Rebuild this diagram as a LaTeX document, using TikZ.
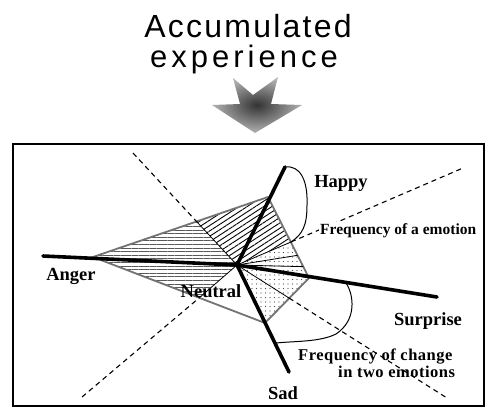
\documentclass[tikz,border=0pt]{standalone}
\usepackage{fontspec}
\setmainfont{Liberation Serif}
\newfontfamily\titlefont{Liberation Sans}
\usetikzlibrary{patterns.meta,calc}
\begin{document}
\begin{tikzpicture}[x=1pt,y=-1pt,
  axisline/.style={line width=3.6pt, line cap=round},
  edgeline/.style={draw=black!55, line width=1.8pt, line join=round},
  rayline/.style={line width=0.8pt},
  dashline/.style={line width=1.1pt, dash pattern=on 5pt off 4pt},
  loopline/.style={line width=1pt},
  bigl/.style={font=\bfseries\fontsize{18.5}{20}\selectfont, anchor=base, inner sep=0pt},
  freql/.style={font=\bfseries\fontsize{16.5}{18}\selectfont\addfontfeature{LetterSpace=3}, anchor=base west, inner sep=0pt},
  titlel/.style={anchor=base, inner sep=0pt}
]
\useasboundingbox (0,0) rectangle (489,410);

% title
\node[titlel, text depth=0pt, font=\titlefont\fontsize{32}{38}\selectfont\addfontfeature{LetterSpace=7}] (t1) at (248,37) {Accumulated};
\node[titlel, text height=17pt, font=\titlefont\fontsize{31}{38}\selectfont\addfontfeature{LetterSpace=13}] (t2) at (244,67) {experience};

% arrow
\shade[inner color=black!80, outer color=black!30]
  (233,78) -- (253,95) -- (278,77) -- (271,104) -- (302,105) -- (255,133) -- (212,105) -- (240,104) -- cycle;

% frame
\draw[line width=1.8pt] (13,144) rectangle (484,406);
\draw[line width=2.8pt] (13,406) -- (13,144) -- (219,144);

% key points
\coordinate (C) at (237,265);
\coordinate (Aend) at (43,256);
\coordinate (Hend) at (285,167);
\coordinate (Send) at (437,297);
\coordinate (Dend) at (289,372);
\coordinate (Av) at (93,257);
\coordinate (Hv) at (268,197);
\coordinate (Sv) at (309,278);
\coordinate (Dv) at (265,323);
\coordinate (PAH) at (197,222);
\coordinate (PAD) at (199,298);
\coordinate (PHS) at (291,242);
\coordinate (PSD) at (289,298);
\coordinate (UL) at (133,153);
\coordinate (LL) at (82,397);
\coordinate (UR) at (463,168);
\coordinate (LR) at (447,398);
\coordinate (R1) at ($(Hv)!0.72!(Sv)$);
\coordinate (R2) at ($(Hv)!0.86!(Sv)$);

% fills
\fill[pattern={Lines[angle=0,distance=3.6pt,line width=0.9pt]}, pattern color=black!65]
  (Av) -- (PAH) -- (C) -- (PAD) -- cycle;
\fill[pattern={Lines[angle=33,distance=4.5pt,line width=0.9pt]}, pattern color=black]
  (PAH) -- (Hv) -- (PHS) -- (C) -- cycle;
\fill[pattern={Dots[radius=0.55pt,distance=4.5pt]}, pattern color=black!70]
  (PHS) -- (Sv) -- (Dv) -- (C) -- cycle;

% polygon edges
\draw[edgeline] (Av) -- (Hv) -- (Sv) -- (Dv) -- cycle;

% thin rays
\draw[rayline] (C) -- (PAH);
\draw[rayline] (C) -- (PAD);
\draw[rayline] (C) -- (PHS);
\draw[rayline] (C) -- (PSD);
\draw[rayline] (C) -- (R1);
\draw[rayline] (C) -- (R2);
\draw[rayline] (C) -- (Sv);

% dashed boundaries
\draw[dashline] (UL) -- (PAH);
\draw[dashline] (LL) -- (PAD);
\draw[dashline] (PHS) -- (UR);
\draw[dashline] (PSD) -- (LR);

% axes
\draw[axisline] (Aend) -- (C);
\draw[axisline] (C) -- (Hend);
\draw[axisline] (C) -- (Send);
\draw[axisline] (C) -- (Dend);

% loops
\draw[loopline] (Hend) .. controls (300,165) and (308,180) .. (307,205)
  .. controls (307,225) and (303,234) .. (PHS);
\draw[loopline] (346,283) .. controls (354,295) and (357,320) .. (336,334)
  .. controls (320,342) and (296,341) .. (276,343);

% labels
\node[bigl] (happy) at (341,187) {Happy};
\node[bigl] (anger) at (71,280) {Anger};
\node[bigl] (neutral) at (211,297) {Neutral};
\node[bigl] (surprise) at (428,325) {Surprise};
\node[bigl] (sad) at (283,399) {Sad};
\node[freql, font=\bfseries\fontsize{15.5}{17}\selectfont, fill=white, inner sep=1pt] (f1) at (319,234) {Frequency of a emotion};
\node[freql] (f2) at (298,360) {Frequency of change};
\node[freql] (f3) at (338,377) {in two emotions};
\end{tikzpicture}
\end{document}
